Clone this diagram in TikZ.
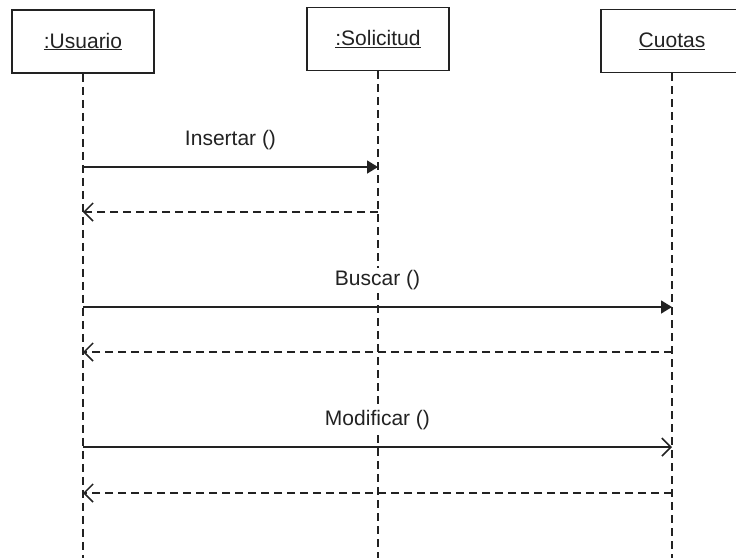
\documentclass[tikz,border=0pt]{standalone}
\usepackage{fontspec}
\setmainfont{Liberation Sans}
\usetikzlibrary{arrows.meta}
\definecolor{ink}{HTML}{222222}
\begin{document}
\begin{tikzpicture}[x=1pt,y=-1pt,
  every node/.style={font=\fontsize{21}{24}\selectfont, text=ink},
  obj/.style={draw=ink, line width=1.7pt, minimum width=142pt, minimum height=63pt, inner sep=0pt},
  lifeline/.style={draw=ink, line width=1.3pt, dash pattern=on 8pt off 5pt},
  call/.style={draw=ink, line width=1.6pt, -{Triangle[length=11pt,width=13pt]}},
  callopen/.style={draw=ink, line width=1.6pt, -{Straight Barb[length=9pt,width=18pt,line width=1.6pt]}},
  reply/.style={draw=ink, line width=1.5pt, dash pattern=on 8pt off 5pt, -{Straight Barb[length=9pt,width=18pt,line width=1.5pt]}},
  msglabel/.style={fill=white, inner xsep=2pt, inner ysep=3pt}]
\useasboundingbox (0,0) rectangle (736,558);
\clip (0,0) rectangle (736,558);
\fill[white] (0,0) rectangle (736,558);

% object boxes
\node[obj] (u) at (83,41.5) {\underline{:Usuario}};
\node[obj] (s) at (378,39) {\underline{:Solicitud}};
\node[obj] (c) at (672,41) {\underline{Cuotas}};

% lifeline ends
\coordinate (uEnd) at (83,558);
\coordinate (sEnd) at (378,558);
\coordinate (cEnd) at (672,558);
\draw[lifeline] (u.south) -- (uEnd);
\draw[lifeline] (s.south) -- (sEnd);
\draw[lifeline] (c.south) -- (cEnd);

% message anchors on the lifelines
\coordinate (u1) at (83,167);  \coordinate (s1) at (378,167);
\coordinate (u2) at (83,212);  \coordinate (s2) at (378,212);
\coordinate (u3) at (83,307);  \coordinate (c3) at (672,307);
\coordinate (u4) at (83,352);  \coordinate (c4) at (672,352);
\coordinate (u5) at (83,447);  \coordinate (c5) at (672,447);
\coordinate (u6) at (83,493);  \coordinate (c6) at (672,493);

% Insertar
\draw[call] (u1) -- node[msglabel, above=13pt] (m1) {Insertar ()} (s1);
\draw[reply] (s2) -- (u2);
% Buscar
\draw[call] (u3) -- node[msglabel, above=13pt] (m2) {Buscar ()} (c3);
\draw[reply] (c4) -- (u4);
% Modificar
\draw[callopen] (u5) -- node[msglabel, above=13pt] (m3) {Modificar ()} (c5);
\draw[reply] (c6) -- (u6);
\end{tikzpicture}
\end{document}
